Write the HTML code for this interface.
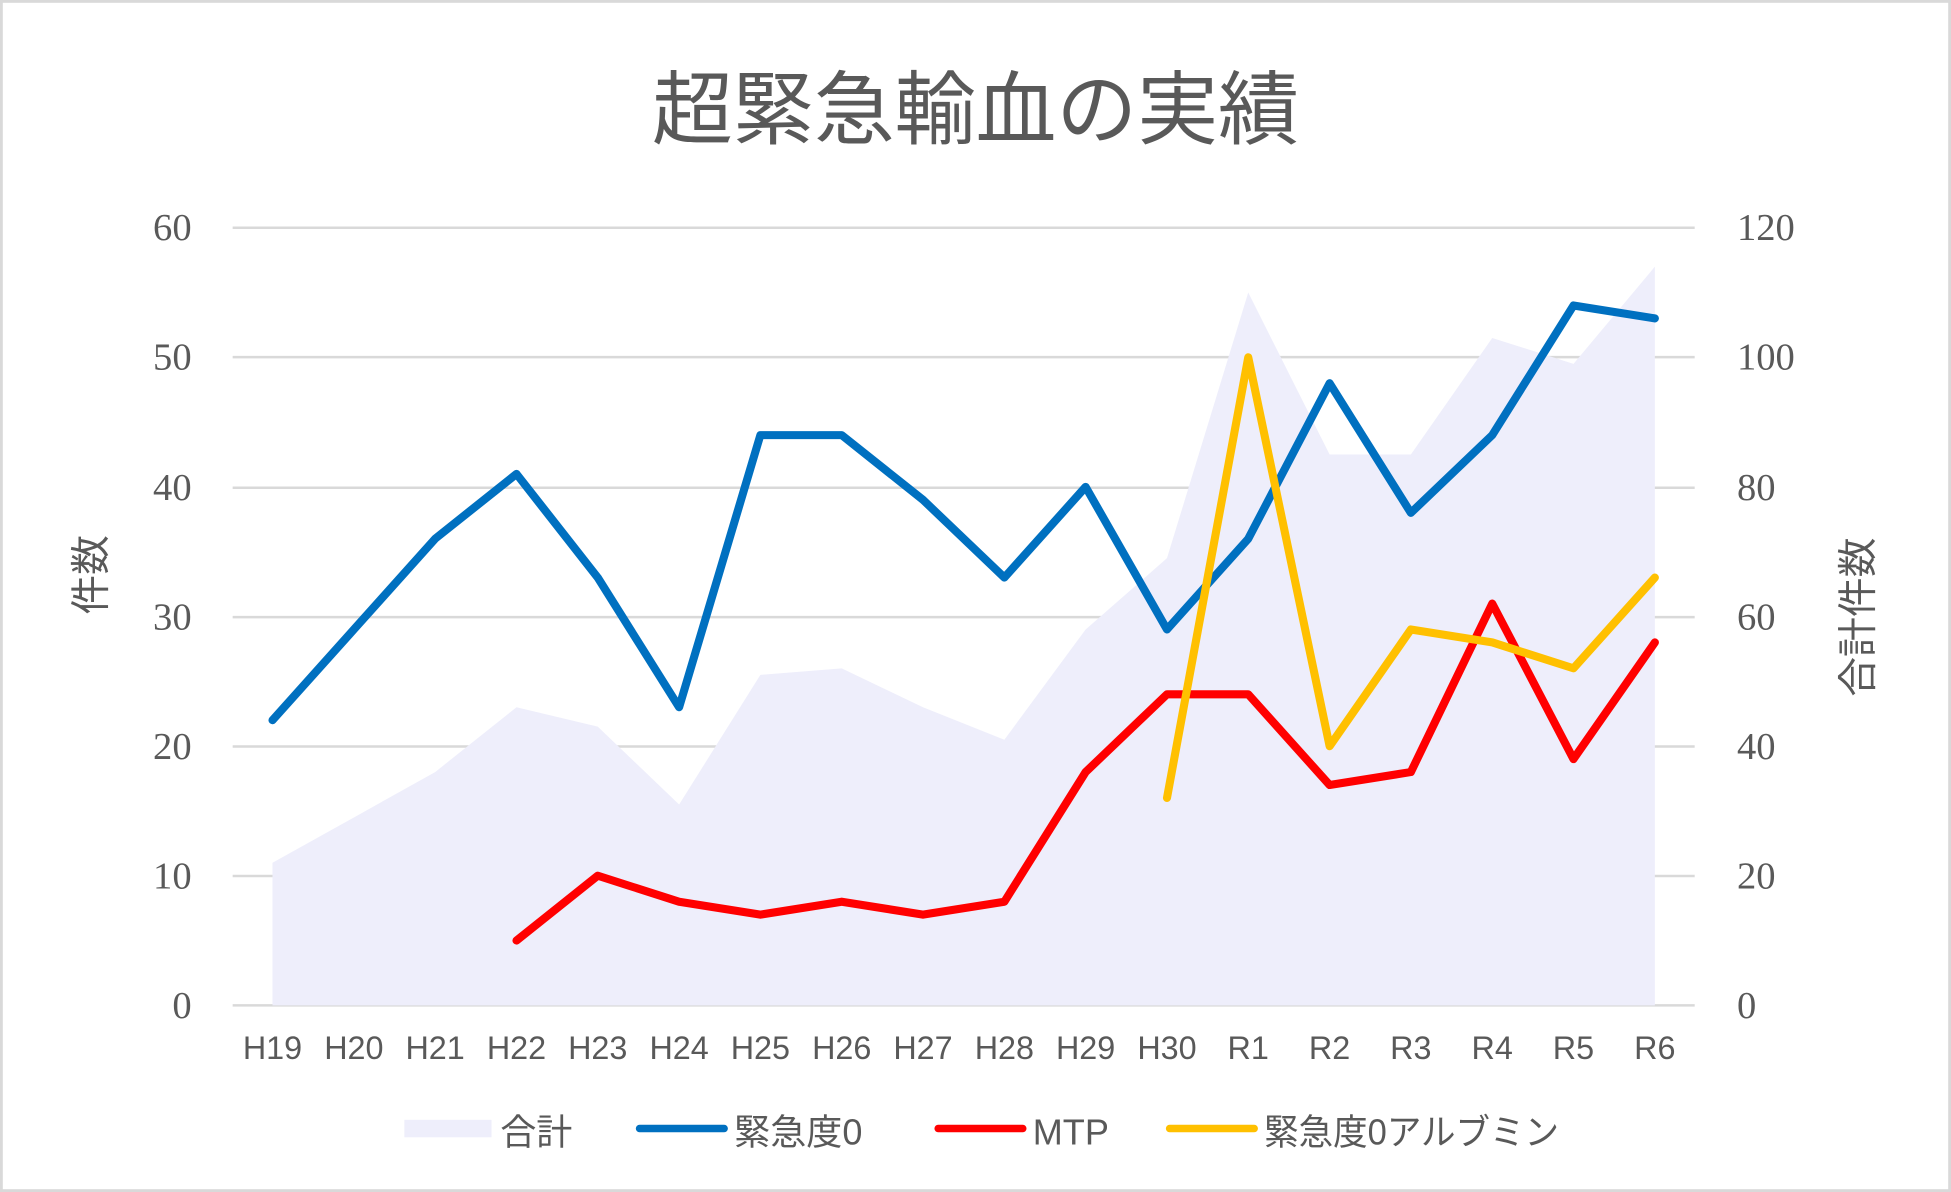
<!DOCTYPE html>
<html><head><meta charset="utf-8"><style>
html,body{margin:0;padding:0;background:#fff}
svg{display:block}
.s{font-family:"Liberation Sans","Noto Sans CJK JP",sans-serif;fill:#595959}
.f{font-family:"Liberation Serif","Noto Serif CJK SC",serif;fill:#595959}
</style></head><body>
<svg width="1951" height="1192" viewBox="0 0 1568 958" preserveAspectRatio="none">
<rect x="1" y="1" width="1566" height="956" fill="#fff" stroke="#d9d9d9" stroke-width="2.5"/>
<text x="784" y="111" text-anchor="middle" class="s" font-size="65">超緊急輸血の実績</text>
<g stroke="#d9d9d9" stroke-width="2">
<line x1="187" x2="1362" y1="183" y2="183"/><line x1="187" x2="1362" y1="287" y2="287"/>
<line x1="187" x2="1362" y1="392" y2="392"/><line x1="187" x2="1362" y1="496" y2="496"/>
<line x1="187" x2="1362" y1="600" y2="600"/><line x1="187" x2="1362" y1="704" y2="704"/>
<line x1="187" x2="1362" y1="808" y2="808"/></g>
<polygon fill="#eeeefb" points="219,808 219,693.4 284.4,657 349.7,620.5 415.1,568.4 480.4,584 545.8,646.6 611.1,542.4 676.5,537.2 741.8,568.4 807.2,594.5 872.5,505.9 937.9,448.6 1003.2,235.1 1068.6,365.3 1133.9,365.3 1199.3,271.6 1264.6,292.4 1330,214.3 1330,808"/>
<g fill="none" stroke-width="6.5" stroke-linejoin="round" stroke-linecap="round">
<polyline stroke="#0070c0" points="219,578.8 284.4,505.9 349.7,433 415.1,380.9 480.4,464.2 545.8,568.4 611.1,349.7 676.5,349.7 741.8,401.7 807.2,464.2 872.5,391.3 937.9,505.9 1003.2,433 1068.6,308 1133.9,412.2 1199.3,349.7 1264.6,245.5 1330,255.9"/>
<polyline stroke="#ff0000" points="415.1,755.9 480.4,703.8 545.8,724.7 611.1,735.1 676.5,724.7 741.8,735.1 807.2,724.7 872.5,620.5 937.9,558 1003.2,558 1068.6,630.9 1133.9,620.5 1199.3,485.1 1264.6,610.1 1330,516.3"/>
<polyline stroke="#ffc000" points="937.9,641.3 1003.2,287.2 1068.6,599.7 1133.9,505.9 1199.3,516.3 1264.6,537.1 1330,464.2"/>
</g>
<g class="f" font-size="31" text-anchor="end">
<text x="154" y="193">60</text><text x="154" y="297">50</text><text x="154" y="402">40</text>
<text x="154" y="506">30</text><text x="154" y="610">20</text><text x="154" y="714">10</text><text x="154" y="818">0</text></g>
<g class="f" font-size="31">
<text x="1396" y="193">120</text><text x="1396" y="297">100</text><text x="1396" y="402">80</text>
<text x="1396" y="506">60</text><text x="1396" y="610">40</text><text x="1396" y="714">20</text><text x="1396" y="818">0</text></g>
<g class="s" font-size="26" text-anchor="middle">
<text x="219" y="851">H19</text><text x="284.4" y="851">H20</text><text x="349.7" y="851">H21</text><text x="415.1" y="851">H22</text><text x="480.4" y="851">H23</text><text x="545.8" y="851">H24</text><text x="611.1" y="851">H25</text><text x="676.5" y="851">H26</text><text x="741.8" y="851">H27</text><text x="807.2" y="851">H28</text><text x="872.5" y="851">H29</text><text x="937.9" y="851">H30</text><text x="1003.2" y="851">R1</text><text x="1068.6" y="851">R2</text><text x="1133.9" y="851">R3</text><text x="1199.3" y="851">R4</text><text x="1264.6" y="851">R5</text><text x="1330" y="851">R6</text></g>
<text class="s" font-size="32" text-anchor="middle" transform="translate(84,462) rotate(-90)">件数</text>
<text class="s" font-size="32" text-anchor="middle" transform="translate(1504,496) rotate(-90)">合計件数</text>
<rect x="325" y="900" width="70" height="14" fill="#eeeefb"/>
<text x="402" y="920" class="s" font-size="29">合計</text>
<line x1="514" y1="907" x2="582" y2="907" stroke="#0070c0" stroke-width="6" stroke-linecap="round"/>
<text x="590" y="920" class="s" font-size="29">緊急度0</text>
<line x1="754" y1="907" x2="822" y2="907" stroke="#ff0000" stroke-width="6" stroke-linecap="round"/>
<text x="830" y="920" class="s" font-size="29">MTP</text>
<line x1="940" y1="907" x2="1008" y2="907" stroke="#ffc000" stroke-width="6" stroke-linecap="round"/>
<text x="1016" y="920" class="s" font-size="29" textLength="237" lengthAdjust="spacingAndGlyphs">緊急度0アルブミン</text>
</svg>
</body></html>
